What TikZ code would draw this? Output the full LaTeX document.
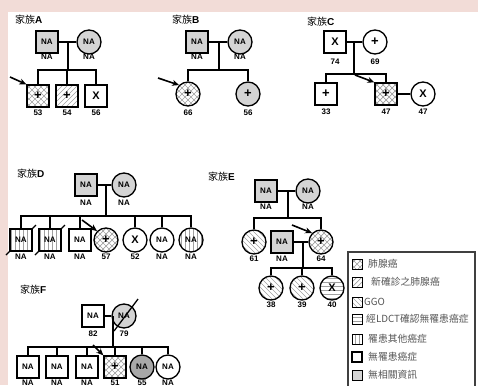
\documentclass[tikz,border=0pt]{standalone}
\usepackage{fontspec}
\setmainfont{Liberation Sans}
\newfontfamily\cjk{Noto Sans CJK TC}
\usetikzlibrary{arrows.meta}
\definecolor{bgpink}{HTML}{F2DCD7}
\definecolor{fillgray}{HTML}{D4D4D4}
\definecolor{darkfill}{HTML}{A8A8A8}
\definecolor{legtext}{HTML}{555555}
\definecolor{hatchgray}{HTML}{A0A0A0}
\begin{document}
\begin{tikzpicture}[x=1pt,y=-1pt,
  ind/.style={draw=black, fill=white, line width=1.3pt, inner sep=0pt, font=\bfseries\fontsize{8}{9}\selectfont},
  male/.style={ind, rectangle, minimum size=22pt},
  female/.style={ind, circle, minimum size=24pt},
  nafill/.style={fill=fillgray},
  hl/.style={draw=hatchgray, line width=0.7pt},
  lac/.style={path picture={\foreach \i in {-30,-24,...,30}{
      \draw[hl] ([shift={(\i,0)}]path picture bounding box.center) ++(-16,16) -- ++(32,-32);
      \draw[hl] ([shift={(\i,0)}]path picture bounding box.center) ++(-16,-16) -- ++(32,32);}}},
  newlac/.style={path picture={\foreach \i in {-30,-25,...,30}{
      \draw[hl] ([shift={(\i,0)}]path picture bounding box.center) ++(-16,16) -- ++(32,-32);}}},
  ggo/.style={path picture={\foreach \i in {-30,-25,...,30}{
      \draw[hl] ([shift={(\i,0)}]path picture bounding box.center) ++(-16,-16) -- ++(32,32);}}},
  ldct/.style={path picture={\foreach \i in {-14,-10,...,14}{
      \draw[hl] ([shift={(0,\i)}]path picture bounding box.center) ++(-16,0) -- ++(32,0);}}},
  othc/.style={path picture={\foreach \i in {-14,-10,...,14}{
      \draw[hl] ([shift={(\i,0)}]path picture bounding box.center) ++(0,-16) -- ++(0,32);}}},
  link/.style={line width=1.6pt},
  lbl/.style={font=\bfseries\fontsize{8}{9}\selectfont, inner sep=0pt},
  fam/.style={anchor=west, inner sep=0pt, font=\fontsize{10}{11}\selectfont},
  prob/.style={-{Stealth[length=7pt,width=6pt]}, line width=1.6pt},
  dec/.style={line width=1.3pt},
  sw/.style={draw=black, fill=white, line width=0.8pt, minimum size=10pt, inner sep=0pt},
  legt/.style={anchor=west, inner sep=0pt, text=legtext, font=\cjk\fontsize{9.8}{11}\selectfont}
]
\newcommand{\pl}{{\fontsize{13}{13}\selectfont +}}
\newcommand{\ex}{{\fontsize{11}{11}\selectfont X}}
\useasboundingbox (0,0) rectangle (478,385);
\fill[bgpink] (0,0) rectangle (478,385);
\fill[white] (8,12) rectangle (478,385);

% ---------- Family A
\node[fam] (tA) at (15,20) {{\cjk 家族}\textbf{A}};
\node[male,nafill] (fA) at (47,42) {NA};
\node[female,nafill] (mA) at (89,42) {NA};
\node[lbl] (fAl) at (47,57) {NA};
\node[lbl] (mAl) at (89,57) {NA};
\coordinate (jA) at (68,42);
\coordinate (sA) at (68,70);
\node[male,lac] (a1) at (38,96) {\pl};
\node[male,newlac] (a2) at (67,96) {\pl};
\node[male] (a3) at (96,96) {\ex};
\node[lbl] (a1l) at (38,113) {53};
\node[lbl] (a2l) at (67,113) {54};
\node[lbl] (a3l) at (96,113) {56};
\draw[link] (fA.east) -- (mA.west);
\draw[link] (jA) -- (sA);
\draw[link] (a1.north) |- (sA) -| (a3.north);
\draw[link] (a2.north) -- (a2.north |- sA);
\coordinate (pA) at (10,77);
\draw[prob] (pA) -- (a1.north west);

% ---------- Family B
\node[fam] (tB) at (172,20) {{\cjk 家族}\textbf{B}};
\node[male,nafill] (fB) at (197,42) {NA};
\node[female,nafill] (mB) at (240,42) {NA};
\node[lbl] (fBl) at (197,57) {NA};
\node[lbl] (mBl) at (240,57) {NA};
\coordinate (jB) at (219,42);
\coordinate (sB) at (219,70);
\node[female,lac] (b1) at (188,94) {\pl};
\node[female,nafill] (b2) at (248,94) {\pl};
\node[lbl] (b1l) at (188,113) {66};
\node[lbl] (b2l) at (248,113) {56};
\draw[link] (fB.east) -- (mB.west);
\draw[link] (jB) -- (sB);
\draw[link] (b1.north) |- (sB) -| (b2.north);
\coordinate (pB) at (158,78);
\draw[prob] (pB) -- (b1.135);

% ---------- Family C
\node[fam] (tC) at (307,22) {{\cjk 家族}\textbf{C}};
\node[male] (fC) at (335,42) {\ex};
\node[female] (mC) at (375,42) {\pl};
\node[lbl] (fCl) at (335,62) {74};
\node[lbl] (mCl) at (375,62) {69};
\coordinate (jC) at (354,42);
\coordinate (sC) at (354,74);
\node[male] (c1) at (326,94) {\pl};
\node[male,lac] (c2) at (386,94) {\pl};
\node[female] (c3) at (423,94) {\ex};
\node[lbl] (c1l) at (326,112) {33};
\node[lbl] (c2l) at (386,112) {47};
\node[lbl] (c3l) at (423,112) {47};
\draw[link] (fC.east) -- (mC.west);
\draw[link] (jC) -- (sC);
\draw[link] (c1.north) |- (sC) -| (c2.north);
\draw[link] (c2.east) -- (c3.west);
\coordinate (pC) at (355,75);
\draw[prob] (pC) -- (c2.north west);

% ---------- Family D
\node[fam] (tD) at (17,174) {{\cjk 家族}\textbf{D}};
\node[male,nafill] (fD) at (86,185) {NA};
\node[female,nafill] (mD) at (124,185) {NA};
\node[lbl] (fDl) at (86,203) {NA};
\node[lbl] (mDl) at (124,203) {NA};
\coordinate (jD) at (106,185);
\coordinate (sD) at (106,216);
% deceased slashes (behind the symbols)
\draw[dec] (6,255) -- (36,225);
\draw[dec] (35,255) -- (65,225);
\node[male,othc] (d1) at (21,240) {NA};
\node[male,othc] (d2) at (50,240) {NA};
\node[male] (d3) at (80,240) {NA};
\node[female,lac] (d4) at (106,240) {\pl};
\node[female] (d5) at (135,240) {\ex};
\node[female] (d6) at (162,240) {NA};
\node[female,othc] (d7) at (191,240) {NA};
\node[lbl] (d1l) at (21,257) {NA};
\node[lbl] (d2l) at (50,257) {NA};
\node[lbl] (d3l) at (80,257) {NA};
\node[lbl] (d4l) at (106,257) {57};
\node[lbl] (d5l) at (135,257) {52};
\node[lbl] (d6l) at (162,257) {NA};
\node[lbl] (d7l) at (191,257) {NA};
\draw[link] (fD.east) -- (mD.west);
\draw[link] (jD) -- (sD);
\draw[link] (d1.north) |- (sD) -| (d7.north);
\foreach \n in {d2,d3,d5,d6} \draw[link] (\n.north) -- (\n.north |- sD);
\coordinate (pD) at (82,220);
\draw[prob] (pD) -- (d4.135);

% ---------- Family E
\node[fam] (tE) at (208,177) {{\cjk 家族}\textbf{E}};
\node[male,nafill] (fE) at (266,191) {NA};
\node[female,nafill] (mE) at (308,191) {NA};
\node[lbl] (fEl) at (266,207) {NA};
\node[lbl] (mEl) at (308,207) {NA};
\coordinate (jE) at (288,191);
\coordinate (sE) at (288,218);
\node[female,ggo] (e1) at (254,242) {\pl};
\node[female,lac] (e2) at (321,242) {\pl};
\node[male,nafill] (e3) at (282,242) {NA};
\node[lbl] (e1l) at (254,259) {61};
\node[lbl] (e2l) at (321,259) {64};
\node[lbl] (e3l) at (282,259) {NA};
\draw[link] (fE.east) -- (mE.west);
\draw[link] (jE) -- (sE);
\draw[link] (e1.north) |- (sE) -| (e2.north);
\draw[link] (e3.east) -- (e2.west);
\coordinate (jE2) at (303,242);
\coordinate (sE2) at (303,268);
\node[female,ggo] (g1) at (271,288) {\pl};
\node[female,ggo] (g2) at (302,288) {\pl};
\node[female,ldct] (g3) at (332,288) {\ex};
\node[lbl] (g1l) at (271,305) {38};
\node[lbl] (g2l) at (302,305) {39};
\node[lbl] (g3l) at (332,305) {40};
\draw[link] (jE2) -- (sE2);
\draw[link] (g1.north) |- (sE2) -| (g3.north);
\draw[link] (g2.north) -- (g2.north |- sE2);
\coordinate (pE) at (292,225);
\draw[prob] (pE) -- (e2.135);

% ---------- Family F
\node[fam] (tF) at (20,290) {{\cjk 家族}\textbf{F}};
\node[male] (fF) at (93,316) {NA};
\node[female,nafill] (mF) at (124,316) {NA};
\node[lbl] (fFl) at (93,334) {82};
\node[lbl] (mFl) at (124,334) {79};
\draw[dec] (114,331) -- (138,299);
\coordinate (jF) at (113,316);
\coordinate (sF) at (113,347);
\node[male] (f1) at (28,367) {NA};
\node[male] (f2) at (57,367) {NA};
\node[male] (f3) at (87,367) {NA};
\node[male,lac] (f4) at (115,367) {\pl};
\node[female,fill=darkfill] (f5) at (142,367) {NA};
\node[female] (f6) at (168,367) {NA};
\node[lbl] (f1l) at (28,383) {NA};
\node[lbl] (f2l) at (57,383) {NA};
\node[lbl] (f3l) at (87,383) {NA};
\node[lbl] (f4l) at (115,383) {51};
\node[lbl] (f5l) at (142,383) {55};
\node[lbl] (f6l) at (168,383) {NA};
\draw[link] (fF.east) -- (mF.west);
\draw[link] (jF) -- (sF);
\draw[link] (f1.north) |- (sF) -| (f6.north);
\foreach \n in {f2,f3,f4,f5} \draw[link] (\n.north) -- (\n.north |- sF);
\coordinate (pF) at (93,345);
\draw[prob] (pF) -- (f4.north west);

% ---------- Legend
\draw[line width=1.5pt, draw=black!75] (348,252) rectangle (475,392);
\node[sw,lac] (k1) at (357,264) {};
\node[sw,newlac] (k2) at (357,282) {};
\node[sw,ggo] (k3) at (357,302) {};
\node[sw,ldct] (k4) at (357,319) {};
\node[sw,othc] (k5) at (357,339) {};
\node[sw,line width=1.6pt] (k6) at (357,357) {};
\node[sw,nafill] (k7) at (357,375) {};
\node[legt] (k1t) at (368,264) {肺腺癌};
\node[legt] (k2t) at (371,282) {新確診之肺腺癌};
\node[legt] (k3t) at (364,302) {GGO};
\node[legt] (k4t) at (366,319) {經LDCT確認無罹患癌症};
\node[legt] (k5t) at (368,339) {罹患其他癌症};
\node[legt] (k6t) at (368,357) {無罹患癌症};
\node[legt] (k7t) at (368,375) {無相關資訊};
\end{tikzpicture}
\end{document}
